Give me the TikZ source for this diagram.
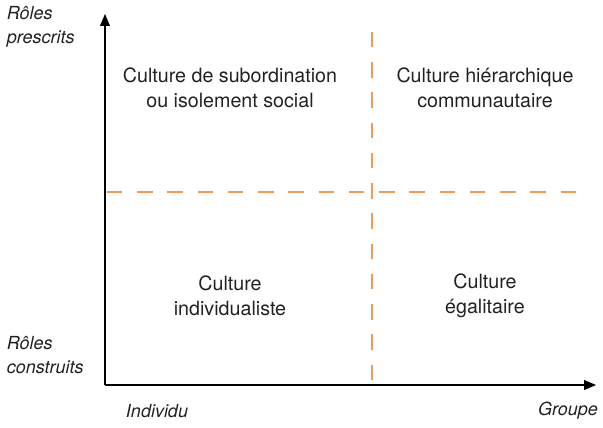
\documentclass[tikz,border=0pt]{standalone}
\usepackage{fontspec}
\setmainfont{TeX Gyre Heros}
\usetikzlibrary{arrows.meta, positioning}
\definecolor{dashorange}{HTML}{EE9A5A}
\definecolor{textgrey}{HTML}{222222}
\tikzset{
	quadrant/.style={align=center, text=textgrey, font=\fontsize{14}{17.8}\selectfont},
	axislabel/.style={text=textgrey, font=\fontsize{12.8}{17}\selectfont\itshape},
	split/.style={dashorange, line width=0.9pt, dash pattern=on 11pt off 10.5pt},
}

\begin{document}
\begin{tikzpicture}[x=0.025cm, y=-0.025cm]
		\useasboundingbox (0,0) rectangle (603,427);
		\coordinate (O) at (105,385);
		\coordinate (Ytop) at (105,14);
		\coordinate (Xend) at (596,385);
		\coordinate (Vtop) at (372,32);
		\coordinate (Vbot) at (372,385);
		\coordinate (Hleft) at (107,192);
		\coordinate (Hright) at (576,192);
		\draw[split] (Vtop) -- (Vbot);
		\draw[split] (Hleft) -- (Hright);
		\draw[line width=0.8pt, -{Triangle[length=8.5pt, width=7pt]}] (O) -- (Ytop);
		\draw[line width=0.8pt, -{Triangle[length=8.5pt, width=7pt]}] (O) -- (Xend);
		\node[quadrant] (subord) at (230,88) {Culture de subordination\\ou isolement social};
		\node[quadrant] (hierar) at (485,88) {Culture hiérarchique\\communautaire};
		\node[quadrant] (indiv) at (230,296) {Culture\\individualiste};
		\node[quadrant] (egal) at (485,296) {Culture\\égalitaire};
		\node[axislabel, align=left, anchor=west] (prescr) at (2,27) {Rôles\\prescrits};
		\node[axislabel, align=left, anchor=west] (constr) at (2,355) {Rôles\\construits};
		\node[axislabel] (individu) at (157,411) {Individu};
		\node[axislabel] (groupe) at (568,411) {Groupe};
	\end{tikzpicture}
\end{document}
